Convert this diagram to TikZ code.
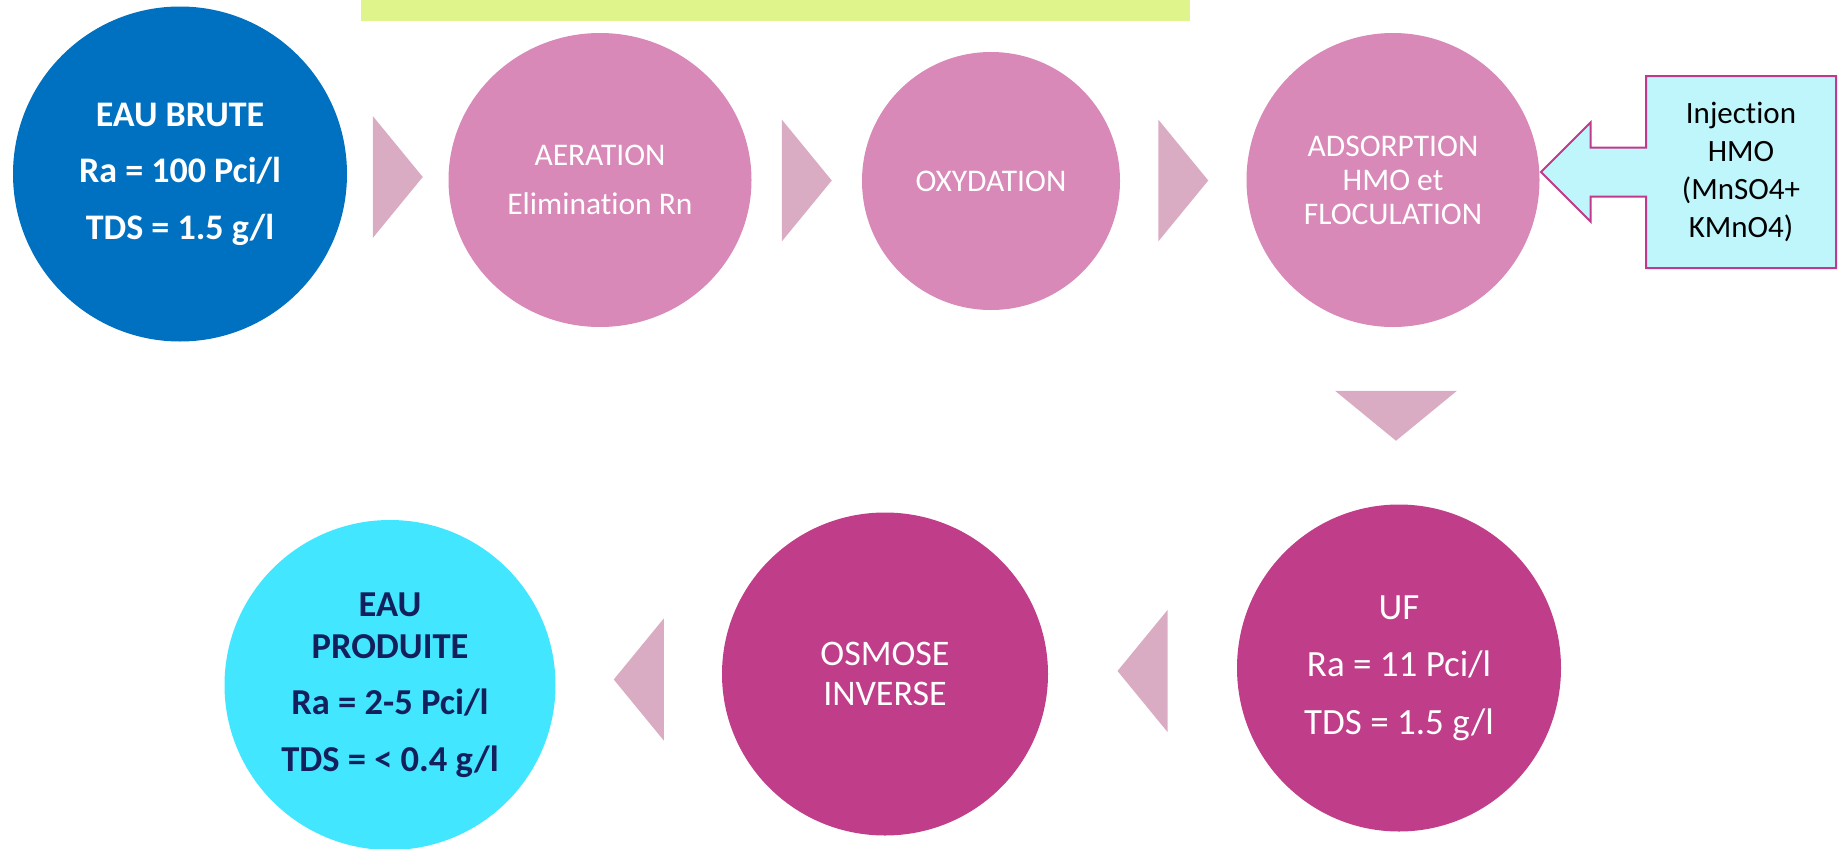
\documentclass[tikz,border=0pt]{standalone}
\usepackage{fontspec}
\setmainfont{Carlito}[Ligatures=NoCommon]
\usepackage{xcolor}
\usetikzlibrary{shapes.geometric,shapes.arrows,calc,positioning}

\definecolor{bleubrute}{RGB}{0,112,192}
\definecolor{roseclair}{RGB}{216,137,184}
\definecolor{rosefonce}{RGB}{192,61,138}
\definecolor{rosechevron}{RGB}{218,172,196}
\definecolor{cyanprod}{RGB}{66,230,255}
\definecolor{cyaninj}{RGB}{190,246,252}
\definecolor{bordinj}{RGB}{192,57,138}
\definecolor{barre}{RGB}{223,244,138}
\definecolor{marine}{RGB}{20,32,92}

\tikzset{
  etape/.style={ellipse, inner sep=0pt, align=center, text=white},
  chevron/.style={fill=rosechevron, draw=none},
}

\begin{document}
\begin{tikzpicture}[x=1pt,y=1pt,yscale=-1,xscale=1]
\useasboundingbox (0,0) rectangle (1840,849);

%Shape: Rectangle
\fill[barre] (361,0) rectangle (1190,21);

%Shape: Circle
\node[etape, fill=bleubrute, minimum width=334pt, minimum height=335pt, font=\fontsize{36}{56.5}\selectfont\bfseries] (brute) at (180,174) {EAU BRUTE\\Ra = 100 Pci/l\\TDS = 1.5 g/l};
%Shape: Circle
\node[etape, fill=roseclair, minimum width=303pt, minimum height=294pt, font=\fontsize{31.5}{49}\selectfont] (aer) at (600,180) {AERATION\\Elimination Rn};
%Shape: Circle
\node[etape, fill=roseclair, minimum width=258pt, minimum height=258pt, font=\fontsize{31.5}{34}\selectfont] (oxy) at (991,181) {OXYDATION};
%Shape: Circle
\node[etape, fill=roseclair, minimum width=293pt, minimum height=294pt, font=\fontsize{31.5}{34}\selectfont] (ads) at (1393,180) {ADSORPTION\\HMO et\\FLOCULATION};
%Shape: Circle
\node[etape, fill=rosefonce, minimum width=324pt, minimum height=327pt, font=\fontsize{37}{57.5}\selectfont] (uf) at (1399,668) {UF\\Ra = 11 Pci/l\\TDS = 1.5 g/l};
%Shape: Circle
\node[etape, fill=rosefonce, minimum width=326pt, minimum height=323pt, font=\fontsize{36}{40}\selectfont] (osm) at (885,674) {OSMOSE\\INVERSE};
%Shape: Circle
\node[etape, fill=cyanprod, text=marine, minimum width=331pt, minimum height=330pt, font=\fontsize{36.5}{56.5}\selectfont\bfseries] (prod) at (390,685) {EAU\\[-14.5pt]PRODUITE\\Ra = 2-5 Pci/l\\TDS = < 0.4 g/l};

%Shape: Left Arrow Callout
\node[arrow box, draw=bordinj, line width=2pt, fill=cyaninj, text=black, align=center, inner sep=0pt,
  minimum width=190pt, minimum height=192pt,
  arrow box arrows={west:104pt from border}, arrow box shaft width=49pt, arrow box head extend=25pt,
  font=\fontsize{31}{38}\selectfont] (inj) at (1741,172) {Injection\\HMO\\(MnSO4+\\KMnO4)};

%Shape: Triangle
\coordinate (c1) at ($(brute.east)!0.5!(aer.west)$);
\fill[chevron] ($(c1)+(-25,-61)$) -- ($(c1)+(25,0)$) -- ($(c1)+(-25,61)$) -- cycle;
%Shape: Triangle
\coordinate (c2) at ($(aer.east)!0.5!(oxy.west)$);
\fill[chevron] ($(c2)+(-25,-61)$) -- ($(c2)+(25,0)$) -- ($(c2)+(-25,61)$) -- cycle;
%Shape: Triangle
\coordinate (c3) at ($(oxy.east)!0.5!(ads.west)$);
\fill[chevron] ($(c3)+(-25,-61)$) -- ($(c3)+(25,0)$) -- ($(c3)+(-25,61)$) -- cycle;
%Shape: Triangle
\coordinate (c4) at ($(ads.south)!0.5!(uf.north)$);
\fill[chevron] ($(c4)+(-61,-25)$) -- ($(c4)+(61,-25)$) -- ($(c4)+(0,25)$) -- cycle;
%Shape: Triangle
\coordinate (c5) at ($(uf.west)!0.5!(osm.east)$);
\fill[chevron] ($(c5)+(25,-61)$) -- ($(c5)+(-25,0)$) -- ($(c5)+(25,61)$) -- cycle;
%Shape: Triangle
\coordinate (c6) at ($(osm.west)!0.5!(prod.east)$);
\fill[chevron] ($(c6)+(25,-61)$) -- ($(c6)+(-25,0)$) -- ($(c6)+(25,61)$) -- cycle;

\end{tikzpicture}
\end{document}
